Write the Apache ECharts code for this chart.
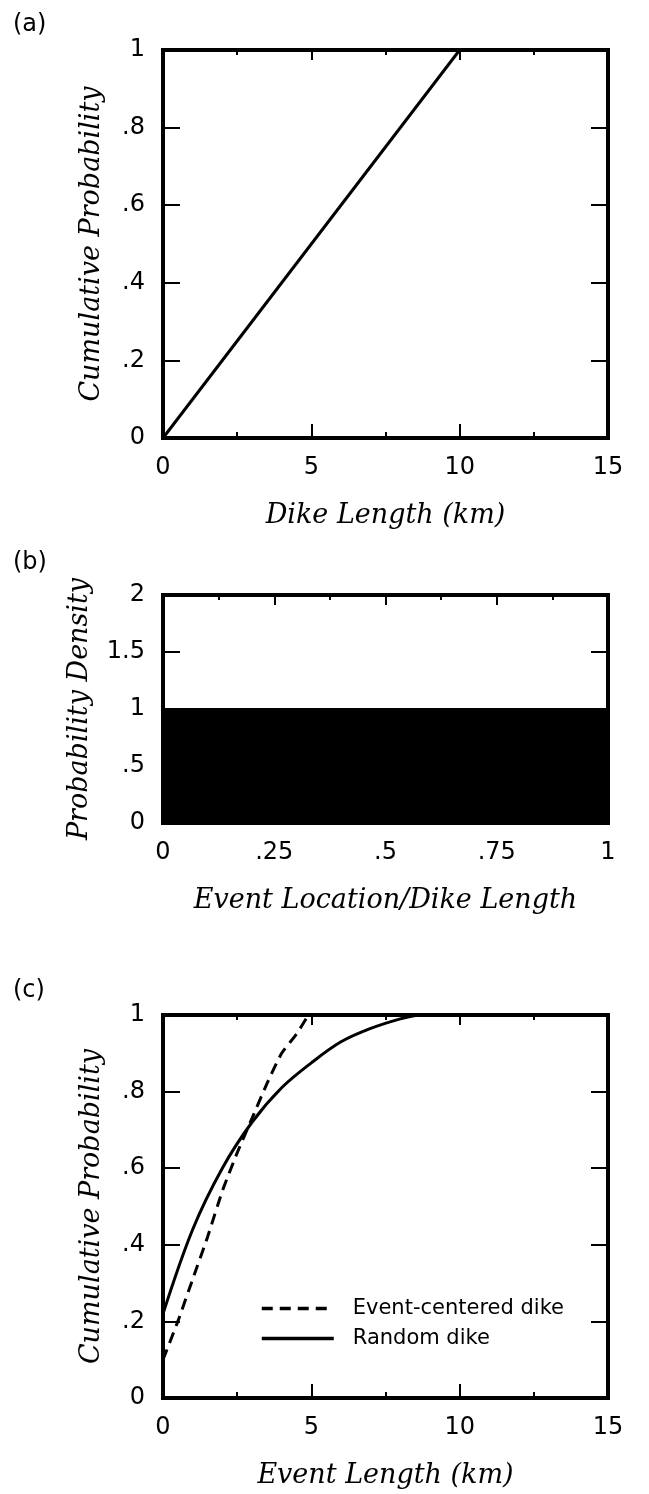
<!DOCTYPE html>
<html>
<head>
<meta charset="utf-8">
<script src="https://cdn.jsdelivr.net/npm/echarts@6/dist/echarts.min.js"></script>
<style>
  html, body { margin: 0; padding: 0; background: #fff; }
  #main { width: 649px; height: 1494px; }
</style>
</head>
<body>
<div id="main"></div>
<script>
// (a) 堤长累积概率
const dikeLength = [0, 10]
const dikeCumProb = [0, 1]

// (b) 事件位置概率密度
const eventLocation = [0, 1]
const eventDensity = [1, 1]

// (c) 事件长度累积概率
const centeredLength = [0, 0.5, 1, 1.5, 2, 2.5, 3, 3.5, 4, 4.5, 4.9]
const centeredProb = [0.10, 0.20, 0.31, 0.42, 0.54, 0.64, 0.73, 0.82, 0.90, 0.95, 1.0]
const randomLength = [0, 1, 2, 3, 4, 5, 6, 7, 8, 8.6]
const randomProb = [0.22, 0.44, 0.60, 0.72, 0.81, 0.875, 0.93, 0.965, 0.99, 1.0]

const seriesNames = ['Event-centered dike', 'Random dike']

const pairs = (xs, ys) => xs.map((x, i) => [x, ys[i]])
const fmt = v => v === 0 ? '0' : String(v).replace(/^0\./, '.')

const labelFont = { fontFamily: 'DejaVu Sans', fontSize: 24, color: '#000' }
const nameFont = { fontFamily: 'DejaVu Serif', fontStyle: 'italic', fontSize: 27, color: '#000' }

const grids = [
    { left: 163, top: 50, width: 445, height: 388 },
    { left: 163, top: 595, width: 445, height: 228 },
    { left: 163, top: 1015, width: 445, height: 383 }
].map(g => Object.assign(g, { show: true, borderColor: '#000', borderWidth: 4, backgroundColor: 'transparent' }))

const tickStyle = { color: '#000', width: 2 }

// 底部x轴 + 顶部只画刻度的x轴
const makeX = (grid, max, interval, name, nameGap) => [
    {
        type: 'value', gridIndex: grid, min: 0, max: max, interval: interval,
        position: 'bottom',
        name: name, nameLocation: 'middle', nameGap: nameGap, nameTextStyle: nameFont,
        axisLine: { show: false, onZero: false },
        axisTick: { show: true, inside: true, length: 14, lineStyle: tickStyle },
        minorTick: { show: true, splitNumber: 2, length: 6, lineStyle: tickStyle },
        axisLabel: Object.assign({ margin: 18, formatter: fmt }, labelFont),
        splitLine: { show: false }
    },
    {
        type: 'value', gridIndex: grid, min: 0, max: max, interval: interval,
        position: 'top',
        axisLine: { show: false, onZero: false },
        axisTick: { show: true, inside: true, length: 10, lineStyle: tickStyle },
        minorTick: { show: true, splitNumber: 2, length: 5, lineStyle: tickStyle },
        axisLabel: { show: false },
        splitLine: { show: false }
    }
]

const makeY = (grid, max, interval, name, nameGap) => [
    {
        type: 'value', gridIndex: grid, min: 0, max: max, interval: interval,
        position: 'left',
        name: name, nameLocation: 'middle', nameGap: nameGap, nameRotate: 90, nameTextStyle: nameFont,
        axisLine: { show: false, onZero: false },
        axisTick: { show: true, inside: true, length: 17, lineStyle: tickStyle },
        axisLabel: Object.assign({ margin: 18, formatter: fmt }, labelFont),
        splitLine: { show: false }
    },
    {
        type: 'value', gridIndex: grid, min: 0, max: max, interval: interval,
        position: 'right',
        axisLine: { show: false, onZero: false },
        axisTick: { show: true, inside: true, length: 17, lineStyle: tickStyle },
        axisLabel: { show: false },
        splitLine: { show: false }
    }
]

const xAxes = [].concat(
    makeX(0, 15, 5, 'Dike Length (km)', 64),
    makeX(1, 1, 0.25, 'Event Location/Dike Length', 64),
    makeX(2, 15, 5, 'Event Length (km)', 64)
)
const yAxes = [].concat(
    makeY(0, 1, 0.2, 'Cumulative Probability', 58),
    makeY(1, 2, 0.5, 'Probability Density', 70),
    makeY(2, 1, 0.2, 'Cumulative Probability', 58)
)

const titleFont = { fontFamily: 'DejaVu Sans', fontSize: 24, fontWeight: 'normal', color: '#000' }

let myChart = echarts.init(document.getElementById('main'))

let option = {
    animation: false,
    backgroundColor: '#fff',
    title: [
        { text: '(a)', left: 8, top: 8, textStyle: titleFont },
        { text: '(b)', left: 8, top: 546, textStyle: titleFont },
        { text: '(c)', left: 8, top: 974, textStyle: titleFont }
    ],
    legend: {
        data: seriesNames,
        orient: 'vertical',
        left: 255, top: 1293,
        itemWidth: 72, itemHeight: 14, itemGap: 9,
        lineStyle: { width: 3.5 },
        itemStyle: { opacity: 0, borderWidth: 0 },
        textStyle: { fontFamily: 'DejaVu Sans', fontSize: 21, color: '#000', padding: [0, 0, 0, 14] }
    },
    grid: grids,
    xAxis: xAxes,
    yAxis: yAxes,
    series: [
        {
            type: 'line', xAxisIndex: 0, yAxisIndex: 0,
            data: pairs(dikeLength, dikeCumProb),
            showSymbol: false, symbol: 'none',
            lineStyle: { color: '#000', width: 3 }
        },
        {
            type: 'line', xAxisIndex: 2, yAxisIndex: 2,
            data: pairs(eventLocation, eventDensity),
            showSymbol: false, symbol: 'none',
            lineStyle: { color: '#000', width: 2 },
            areaStyle: { color: '#000', opacity: 1 }
        },
        {
            name: seriesNames[0],
            type: 'line', xAxisIndex: 4, yAxisIndex: 4,
            data: pairs(centeredLength, centeredProb),
            showSymbol: false, symbol: 'none', smooth: 0.2,
            itemStyle: { color: '#000' },
            lineStyle: { color: '#000', width: 3, type: [11, 7] }
        },
        {
            name: seriesNames[1],
            type: 'line', xAxisIndex: 4, yAxisIndex: 4,
            data: pairs(randomLength, randomProb),
            showSymbol: false, symbol: 'none', smooth: 0.35,
            itemStyle: { color: '#000' },
            lineStyle: { color: '#000', width: 3 }
        }
    ]
}

myChart.setOption(option)
</script>
</body>
</html>
